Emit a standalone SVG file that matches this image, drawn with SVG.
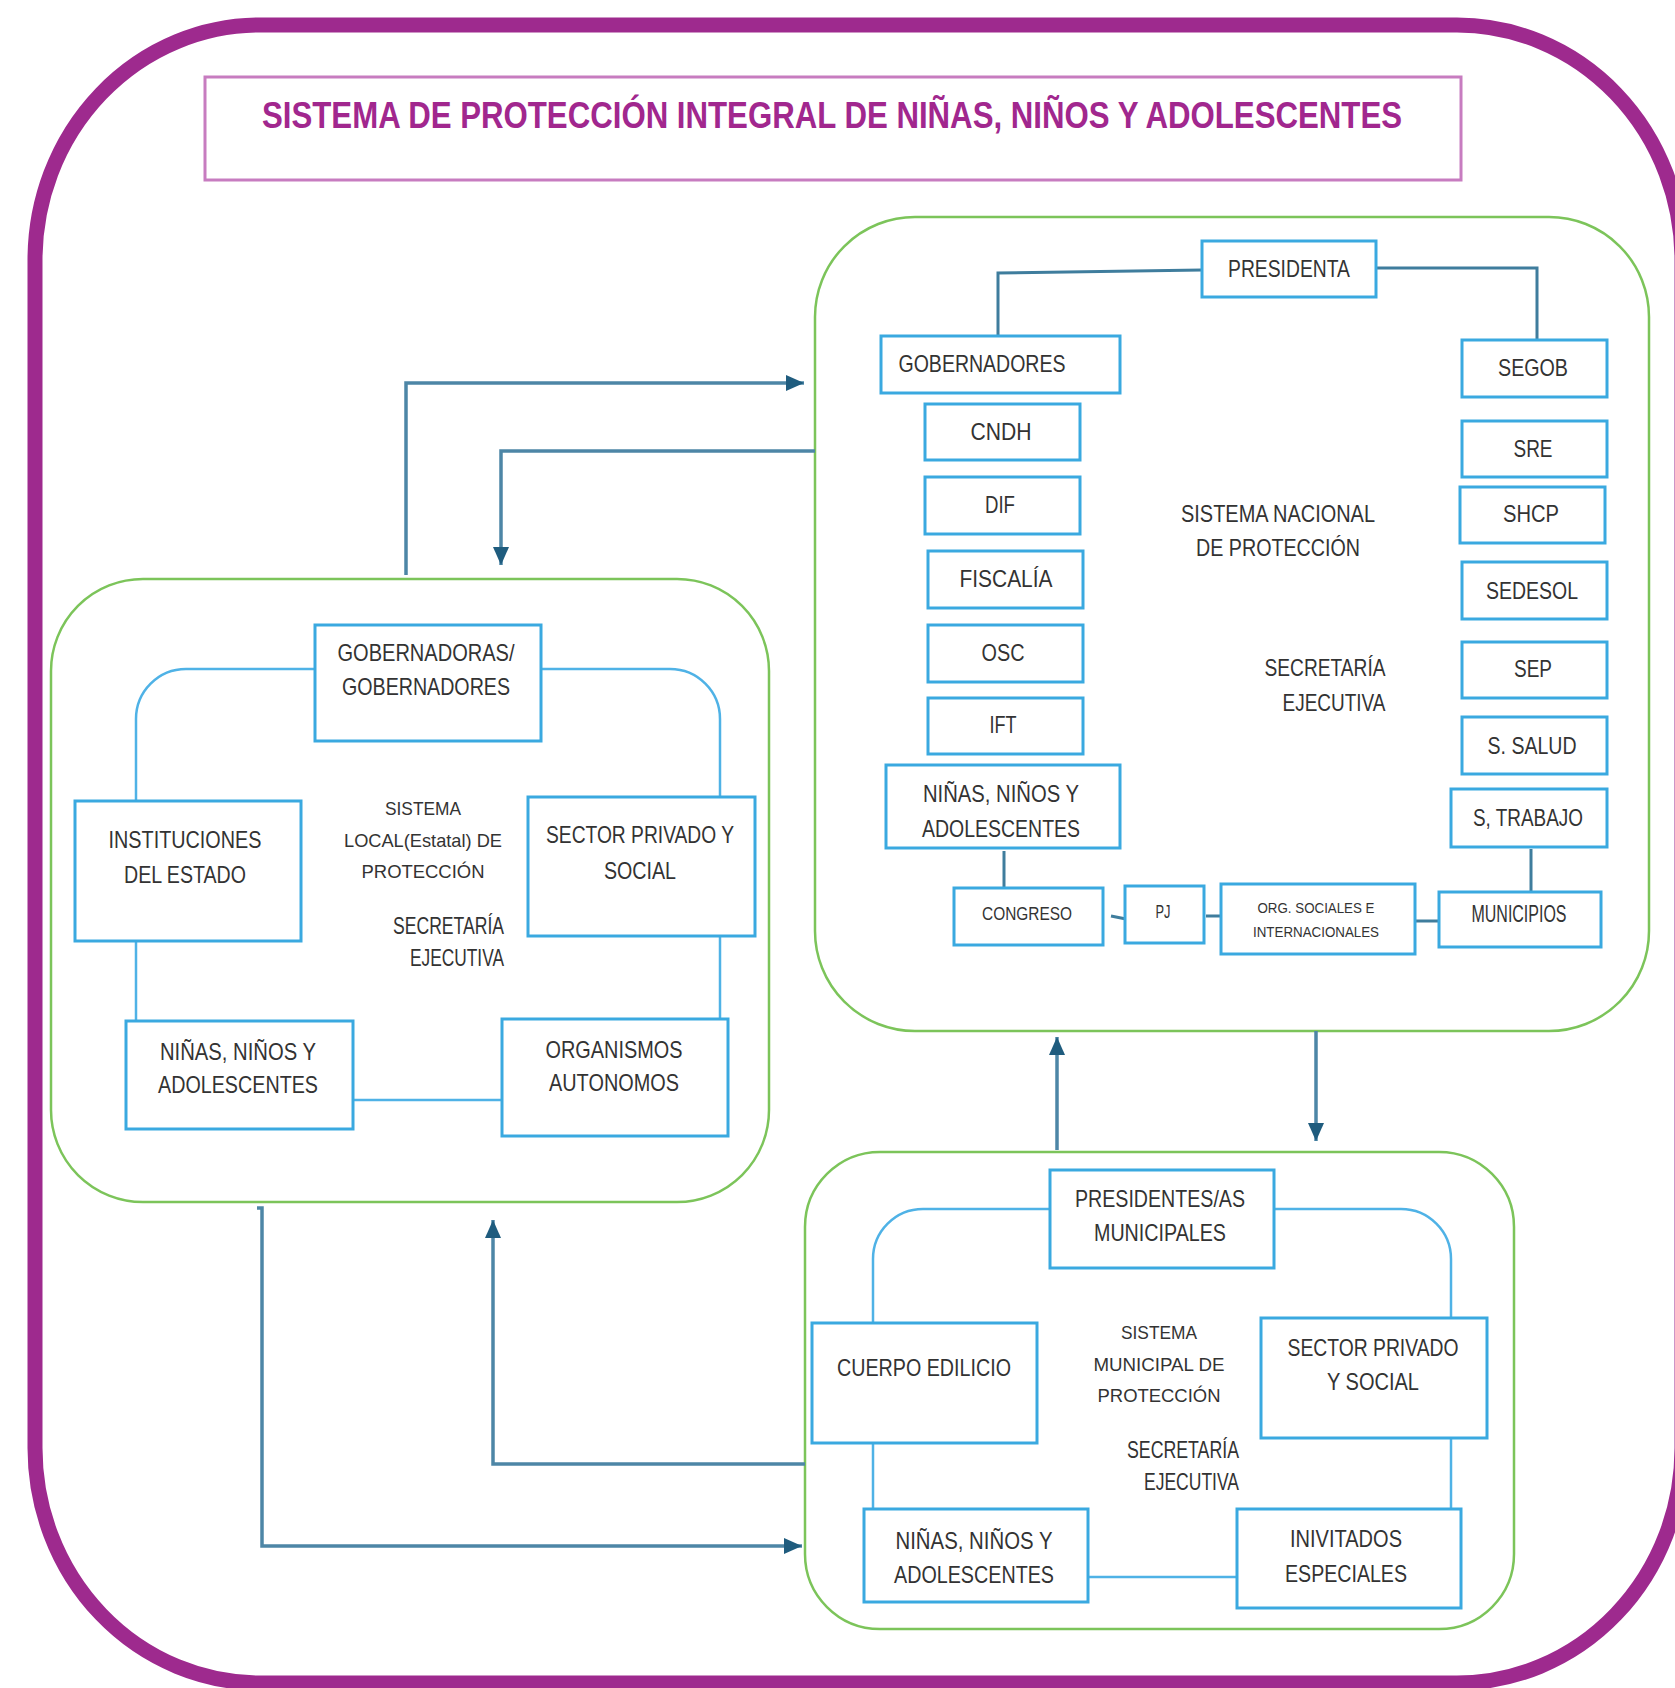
<svg xmlns="http://www.w3.org/2000/svg" width="1675" height="1688" viewBox="0 0 1675 1688">
<style>
.frame{fill:none;stroke:#9e2a8e;stroke-width:15}
.title-box{fill:#fff;stroke:#c77cc0;stroke-width:3}
.title{font-family:"Liberation Sans",Arial,sans-serif;font-weight:bold;font-size:36px;fill:#a1278e}
.group{fill:#fff;stroke:#7cc45a;stroke-width:2.5}
.node{fill:#fff;stroke:#3aa9e0;stroke-width:3}
.t{font-family:"Liberation Sans",Arial,sans-serif;font-size:24px;fill:#333;text-anchor:middle}
.s{font-size:19px}
.xs{font-size:14px}
.e{text-anchor:end}
.link{fill:none;stroke:#4d86a6;stroke-width:3.5}
.inner{fill:none;stroke:#3f7d9d;stroke-width:3}
.loop{fill:none;stroke:#4fb2e6;stroke-width:2.5}
</style>
<defs>
<marker id="arr" markerUnits="userSpaceOnUse" markerWidth="20" markerHeight="18" refX="18" refY="9" orient="auto">
<path d="M0,1 L18,9 L0,17 Z" fill="#1f5c7e"/>
</marker>
</defs>
<rect class="frame" x="35" y="25" width="1647" height="1658" rx="225" ry="235"/>
<g id="title">
<rect class="title-box" x="205" y="77" width="1256" height="103"/>
<text class="title" x="262" y="128" textLength="1140" lengthAdjust="spacingAndGlyphs">SISTEMA DE PROTECCIÓN INTEGRAL DE NIÑAS, NIÑOS Y ADOLESCENTES</text>
</g>

<g id="nacional">
<rect class="group" x="815" y="217" width="834" height="814" rx="100"/>
<text class="t" x="1278" y="522" textLength="194" lengthAdjust="spacingAndGlyphs">SISTEMA NACIONAL</text>
<text class="t" x="1278" y="556" textLength="164" lengthAdjust="spacingAndGlyphs">DE PROTECCIÓN</text>
<text class="t" x="1325" y="676" textLength="121" lengthAdjust="spacingAndGlyphs">SECRETARÍA</text>
<text class="t" x="1334" y="711" textLength="103" lengthAdjust="spacingAndGlyphs">EJECUTIVA</text>
</g>
<g id="estatal">
<rect class="group" x="51" y="579" width="718" height="623" rx="92"/>
<text class="t s" x="423" y="815" textLength="76" lengthAdjust="spacingAndGlyphs">SISTEMA</text>
<text class="t s" x="423" y="847" textLength="158" lengthAdjust="spacingAndGlyphs">LOCAL(Estatal) DE</text>
<text class="t s" x="423" y="878" textLength="123" lengthAdjust="spacingAndGlyphs">PROTECCIÓN</text>
<text class="t e" x="504" y="934" font-size="20" textLength="111" lengthAdjust="spacingAndGlyphs">SECRETARÍA</text>
<text class="t e" x="504" y="966" font-size="20" textLength="94" lengthAdjust="spacingAndGlyphs">EJECUTIVA</text>
</g>
<g id="municipal">
<rect class="group" x="805" y="1152" width="709" height="477" rx="75"/>
<text class="t s" x="1159" y="1339" textLength="76" lengthAdjust="spacingAndGlyphs">SISTEMA</text>
<text class="t s" x="1159" y="1371" textLength="131" lengthAdjust="spacingAndGlyphs">MUNICIPAL DE</text>
<text class="t s" x="1159" y="1402" textLength="123" lengthAdjust="spacingAndGlyphs">PROTECCIÓN</text>
<text class="t e" x="1239" y="1458" font-size="20" textLength="112" lengthAdjust="spacingAndGlyphs">SECRETARÍA</text>
<text class="t e" x="1239" y="1490" font-size="20" textLength="95" lengthAdjust="spacingAndGlyphs">EJECUTIVA</text>
</g>

<g id="connectors">
<path class="link" d="M406,575 V383 H804" marker-end="url(#arr)"/>
<path class="link" d="M815,451 H501 V565" marker-end="url(#arr)"/>
<path class="link" d="M1057,1150 V1037" marker-end="url(#arr)"/>
<path class="link" d="M1316,1031 V1141" marker-end="url(#arr)"/>
<path class="link" d="M805,1464 H493 V1220" marker-end="url(#arr)"/>
<path class="link" d="M257,1208 H262 V1546 H802" marker-end="url(#arr)"/>
<path class="inner" d="M1202,270 L998,273 V340"/>
<path class="inner" d="M1376,268 H1537 V340"/>
<path class="inner" d="M1004,851 V888"/>
<path class="inner" d="M1531,849 V892"/>
<path class="inner" d="M1111,916 L1126,919"/>
<path class="inner" d="M1206,916 H1222"/>
<path class="inner" d="M1415,921 H1439"/>
<path class="loop" d="M314,669 H186 A50,50 0 0 0 136,719 V802"/>
<path class="loop" d="M540,669 H670 A50,50 0 0 1 720,719 V797"/>
<path class="loop" d="M136,941 V1021"/>
<path class="loop" d="M720,936 V1019"/>
<path class="loop" d="M353,1100 H502"/>
<path class="loop" d="M1050,1209 H923 A50,50 0 0 0 873,1259 V1323"/>
<path class="loop" d="M1274,1209 H1401 A50,50 0 0 1 1451,1259 V1318"/>
<path class="loop" d="M873,1443 V1509"/>
<path class="loop" d="M1451,1438 V1509"/>
<path class="loop" d="M1088,1577 H1237"/>
</g>

<g id="presidenta"><rect class="node" x="1202" y="241" width="174" height="56"/><text class="t" x="1289" y="277" textLength="122" lengthAdjust="spacingAndGlyphs">PRESIDENTA</text></g>
<g id="gobernadores"><rect class="node" x="881" y="336" width="239" height="57"/><text class="t" x="982" y="372" textLength="167" lengthAdjust="spacingAndGlyphs">GOBERNADORES</text></g>
<g id="segob"><rect class="node" x="1462" y="340" width="145" height="57"/><text class="t" x="1533" y="376" textLength="70" lengthAdjust="spacingAndGlyphs">SEGOB</text></g>
<g id="cndh"><rect class="node" x="925" y="404" width="155" height="56"/><text class="t" x="1001" y="440" textLength="61" lengthAdjust="spacingAndGlyphs">CNDH</text></g>
<g id="dif"><rect class="node" x="925" y="477" width="155" height="57"/><text class="t" x="1000" y="513" textLength="30" lengthAdjust="spacingAndGlyphs">DIF</text></g>
<g id="fiscalia"><rect class="node" x="928" y="551" width="155" height="57"/><text class="t" x="1006" y="587" textLength="93" lengthAdjust="spacingAndGlyphs">FISCALÍA</text></g>
<g id="osc"><rect class="node" x="928" y="625" width="155" height="57"/><text class="t" x="1003" y="661" textLength="43" lengthAdjust="spacingAndGlyphs">OSC</text></g>
<g id="ift"><rect class="node" x="928" y="698" width="155" height="56"/><text class="t" x="1003" y="733" textLength="27" lengthAdjust="spacingAndGlyphs">IFT</text></g>
<g id="nna-nacional"><rect class="node" x="886" y="765" width="234" height="83"/><text class="t" x="1001" y="802" textLength="156" lengthAdjust="spacingAndGlyphs">NIÑAS, NIÑOS Y</text><text class="t" x="1001" y="837" textLength="158" lengthAdjust="spacingAndGlyphs">ADOLESCENTES</text></g>
<g id="sre"><rect class="node" x="1462" y="421" width="145" height="56"/><text class="t" x="1533" y="457" textLength="39" lengthAdjust="spacingAndGlyphs">SRE</text></g>
<g id="shcp"><rect class="node" x="1460" y="487" width="145" height="56"/><text class="t" x="1531" y="522" textLength="56" lengthAdjust="spacingAndGlyphs">SHCP</text></g>
<g id="sedesol"><rect class="node" x="1462" y="562" width="145" height="57"/><text class="t" x="1532" y="599" textLength="92" lengthAdjust="spacingAndGlyphs">SEDESOL</text></g>
<g id="sep"><rect class="node" x="1462" y="642" width="145" height="56"/><text class="t" x="1533" y="677" textLength="38" lengthAdjust="spacingAndGlyphs">SEP</text></g>
<g id="ssalud"><rect class="node" x="1462" y="717" width="145" height="57"/><text class="t" x="1532" y="754" textLength="89" lengthAdjust="spacingAndGlyphs">S. SALUD</text></g>
<g id="strabajo"><rect class="node" x="1451" y="789" width="156" height="58"/><text class="t" x="1528" y="826" textLength="110" lengthAdjust="spacingAndGlyphs">S, TRABAJO</text></g>
<g id="congreso"><rect class="node" x="954" y="888" width="149" height="57"/><text class="t s" x="1027" y="920" textLength="90" lengthAdjust="spacingAndGlyphs">CONGRESO</text></g>
<g id="pj"><rect class="node" x="1125" y="886" width="79" height="57"/><text class="t s" x="1163" y="918" textLength="15" lengthAdjust="spacingAndGlyphs">PJ</text></g>
<g id="org"><rect class="node" x="1221" y="884" width="194" height="70"/><text class="t xs" x="1316" y="913" textLength="117" lengthAdjust="spacingAndGlyphs">ORG. SOCIALES E</text><text class="t xs" x="1316" y="937" textLength="126" lengthAdjust="spacingAndGlyphs">INTERNACIONALES</text></g>
<g id="municipios"><rect class="node" x="1439" y="892" width="162" height="55"/><text class="t" x="1519" y="922" font-size="18" textLength="95" lengthAdjust="spacingAndGlyphs">MUNICIPIOS</text></g>

<g id="gobernadoras"><rect class="node" x="315" y="625" width="226" height="116"/><text class="t" x="426" y="661" textLength="177" lengthAdjust="spacingAndGlyphs">GOBERNADORAS/</text><text class="t" x="426" y="695" textLength="168" lengthAdjust="spacingAndGlyphs">GOBERNADORES</text></g>
<g id="instituciones"><rect class="node" x="75" y="801" width="226" height="140"/><text class="t" x="185" y="848" textLength="153" lengthAdjust="spacingAndGlyphs">INSTITUCIONES</text><text class="t" x="185" y="883" textLength="122" lengthAdjust="spacingAndGlyphs">DEL ESTADO</text></g>
<g id="sector-estatal"><rect class="node" x="528" y="797" width="227" height="139"/><text class="t" x="640" y="843" textLength="188" lengthAdjust="spacingAndGlyphs">SECTOR PRIVADO Y</text><text class="t" x="640" y="879" textLength="72" lengthAdjust="spacingAndGlyphs">SOCIAL</text></g>
<g id="nna-estatal"><rect class="node" x="126" y="1021" width="227" height="108"/><text class="t" x="238" y="1060" textLength="156" lengthAdjust="spacingAndGlyphs">NIÑAS, NIÑOS Y</text><text class="t" x="238" y="1093" textLength="160" lengthAdjust="spacingAndGlyphs">ADOLESCENTES</text></g>
<g id="organismos"><rect class="node" x="502" y="1019" width="226" height="117"/><text class="t" x="614" y="1058" textLength="137" lengthAdjust="spacingAndGlyphs">ORGANISMOS</text><text class="t" x="614" y="1091" textLength="130" lengthAdjust="spacingAndGlyphs">AUTONOMOS</text></g>

<g id="presidentes"><rect class="node" x="1050" y="1170" width="224" height="98"/><text class="t" x="1160" y="1207" textLength="170" lengthAdjust="spacingAndGlyphs">PRESIDENTES/AS</text><text class="t" x="1160" y="1241" textLength="132" lengthAdjust="spacingAndGlyphs">MUNICIPALES</text></g>
<g id="cuerpo"><rect class="node" x="812" y="1323" width="225" height="120"/><text class="t" x="924" y="1376" textLength="174" lengthAdjust="spacingAndGlyphs">CUERPO EDILICIO</text></g>
<g id="sector-municipal"><rect class="node" x="1261" y="1318" width="226" height="120"/><text class="t" x="1373" y="1356" textLength="171" lengthAdjust="spacingAndGlyphs">SECTOR PRIVADO</text><text class="t" x="1373" y="1390" textLength="92" lengthAdjust="spacingAndGlyphs">Y SOCIAL</text></g>
<g id="nna-municipal"><rect class="node" x="864" y="1509" width="224" height="93"/><text class="t" x="974" y="1549" textLength="157" lengthAdjust="spacingAndGlyphs">NIÑAS, NIÑOS Y</text><text class="t" x="974" y="1583" textLength="160" lengthAdjust="spacingAndGlyphs">ADOLESCENTES</text></g>
<g id="invitados"><rect class="node" x="1237" y="1509" width="224" height="99"/><text class="t" x="1346" y="1547" textLength="112" lengthAdjust="spacingAndGlyphs">INIVITADOS</text><text class="t" x="1346" y="1582" textLength="122" lengthAdjust="spacingAndGlyphs">ESPECIALES</text></g>
</svg>
